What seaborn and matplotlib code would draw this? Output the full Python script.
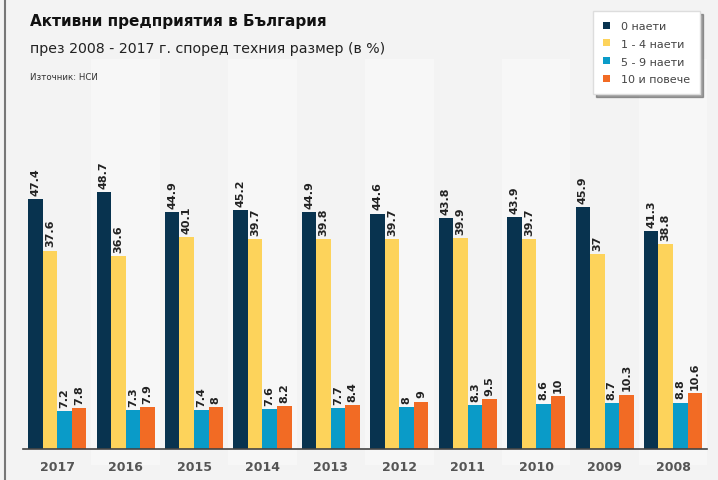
import matplotlib
matplotlib.use("Agg")
import matplotlib.pyplot as plt
import seaborn as sns
import pandas as pd
from matplotlib.lines import Line2D

years = ["2017", "2016", "2015", "2014", "2013", "2012", "2011", "2010", "2009", "2008"]
series_names = ["0 наети", "1 - 4 наети", "5 - 9 наети", "10 и повече"]
s0 = [47.4, 48.7, 44.9, 45.2, 44.9, 44.6, 43.8, 43.9, 45.9, 41.3]
s1 = [37.6, 36.6, 40.1, 39.7, 39.8, 39.7, 39.9, 39.7, 37, 38.8]
s2 = [7.2, 7.3, 7.4, 7.6, 7.7, 8, 8.3, 8.6, 8.7, 8.8]
s3 = [7.8, 7.9, 8, 8.2, 8.4, 9, 9.5, 10, 10.3, 10.6]
colors = ["#08334f", "#fdd35b", "#0a9bc8", "#f26b24"]

rows = []
for name, vals in zip(series_names, [s0, s1, s2, s3]):
    for y, v in zip(years, vals):
        rows.append({"year": y, "series": name, "value": v})
df = pd.DataFrame(rows)

sns.set_style("white")
fig = plt.figure(figsize=(7.18, 4.81), dpi=100)
fig.patch.set_facecolor("#f3f3f3")
ax = fig.add_axes([0.032, 0.0644, 0.953, 0.811])
ax.set_facecolor("none")

for i in range(len(years)):
    if i % 2 == 1:
        ax.axvspan(i - 0.5, i + 0.5, ymin=-0.04, ymax=1.0, color="white",
                   alpha=0.4, zorder=0, lw=0, clip_on=False)

sns.barplot(data=df, x="year", y="value", hue="series", order=years,
            hue_order=series_names, palette=colors, width=0.85,
            saturation=1, ax=ax, zorder=2, linewidth=0, edgecolor="none")

for cont in ax.containers:
    labels = [("%g" % v) for v in cont.datavalues]
    ax.bar_label(cont, labels=labels, rotation=90, padding=3,
                 fontsize=8, fontweight="bold", color="#222222")

ax.set_xlim(-0.5, len(years) - 0.5)
ax.set_ylim(0, 73.9)
ax.set_xlabel("")
ax.set_ylabel("")
ax.set_yticks([])
for sp in ["top", "right", "left"]:
    ax.spines[sp].set_visible(False)
ax.spines["bottom"].set_color("#444444")
ax.spines["bottom"].set_linewidth(1.2)
ax.spines["bottom"].set_zorder(3)
ax.tick_params(axis="x", length=0, pad=8)
for t in ax.get_xticklabels():
    t.set_fontweight("bold")
    t.set_color("#555555")
    t.set_fontsize(9)

handles, labs = ax.get_legend_handles_labels()
ax.get_legend().remove()
leg = fig.legend(handles, labs, loc="upper right",
                 bbox_to_anchor=(700 / 718, 1 - 12 / 481), frameon=True,
                 fontsize=8, handlelength=0.6, handleheight=0.6,
                 labelspacing=0.7, borderpad=0.9, handletextpad=1.0,
                 fancybox=False, shadow=True, edgecolor="#dddddd",
                 borderaxespad=0)
leg.get_frame().set_facecolor("white")
for t in leg.get_texts():
    t.set_color("#444444")

fig.text(0.042, 0.955, "Активни предприятия в България", fontsize=11,
         fontweight="bold", color="#111111", va="center")
fig.text(0.042, 0.898, "през 2008 - 2017 г. според техния размер (в %)",
         fontsize=10.2, color="#222222", va="center")
fig.text(0.042, 0.838, "Източник: НСИ", fontsize=6.2, color="#333333", va="center")

fig.add_artist(Line2D([0.007, 0.007], [0, 1], color="#777777", lw=1.5,
                      transform=fig.transFigure))

fig.savefig("out.png", dpi=100, facecolor=fig.get_facecolor())
